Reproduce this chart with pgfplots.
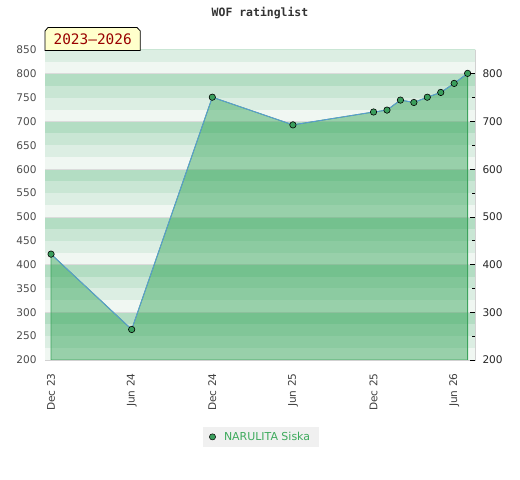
\documentclass[border=0pt]{standalone}
\usepackage{pgfplots}
\pgfplotsset{compat=1.18}
\usepackage{fontspec}
\setmainfont{DejaVu Sans}
\newfontfamily\monofont{DejaVu Sans Mono}
\definecolor{band0}{HTML}{F0F7F2}
\definecolor{band1}{HTML}{DCEEE3}
\definecolor{band2}{HTML}{C9E6D4}
\definecolor{band3}{HTML}{B3DDC3}
\definecolor{areafill}{RGB}{31,155,71}
\definecolor{edgegreen}{HTML}{3DA35D}
\definecolor{linecol}{HTML}{5B9BD5}
\definecolor{markfill}{HTML}{3A9E5C}
\definecolor{legtext}{HTML}{3DAA5C}
\definecolor{boxfill}{HTML}{FFFFCC}
\definecolor{boxtext}{HTML}{990000}
\begin{document}
\begin{tikzpicture}[x=1bp,y=1bp]
\useasboundingbox (0,0) rectangle (520,480);
\begin{axis}[
  at={(45bp,120bp)}, anchor=south west,
  scale only axis, width=430bp, height=310bp,
  xmin=-0.45, xmax=31.55, ymin=200, ymax=850,
  ytick={200,250,...,850},
  xtick={0,6,12,18,24,30},
  xticklabels={Dec 23,Jun 24,Dec 24,Jun 25,Dec 25,Jun 26},
  x tick label style={rotate=90, anchor=east, font=\fontsize{10.6}{12}\selectfont, text=black!75, xshift=-10bp, yshift=0bp},
  y tick label style={font=\fontsize{10.6}{12}\selectfont, text=black!70, xshift=-5bp},
  /pgf/number format/assume math mode=true,
  major tick length=0pt,
  axis line style={draw=black!18},
  legend style={at={(0.502,-0.248)}, anchor=center, fill=black!6, draw=none,
    font=\fontsize{11}{13}\selectfont, text=legtext, inner xsep=6.5bp, inner ysep=2.5bp,
    nodes={inner sep=2.5bp}},
  legend image code/.code={\path[draw=none, fill=none] (-1bp,-3bp) rectangle (11bp,3bp);
    \path[fill=markfill, draw=black, line width=0.5bp] (2bp,0bp) circle (3.1bp);},
  legend cell align=left,
  clip=true,
]
\fill[band3] (axis cs:-1,200) rectangle (axis cs:40,900);
\pgfplotsinvokeforeach{2,3,...,8}{
  \fill[band0] (axis cs:-1,#100) rectangle (axis cs:40,#125);
  \fill[band1] (axis cs:-1,#125) rectangle (axis cs:40,#150);
  \fill[band2] (axis cs:-1,#150) rectangle (axis cs:40,#175);
  \draw[black!14, line width=0.8bp] (axis cs:-1,#100) -- (axis cs:40,#100);
}
\addplot[fill=areafill, fill opacity=0.42, draw=edgegreen, line width=0.8bp, forget plot]
  coordinates {(0,422) (6,264) (12,751) (18,693) (24,720) (25,724) (26,745) (27,740) (28,751) (29,761) (30,780) (31,801)} \closedcycle;
\addplot[linecol, line width=0.9bp, mark=*, mark size=3.2bp,
  mark options={fill=markfill, draw=black, line width=0.6bp}, forget plot]
  coordinates {(0,422) (6,264) (12,751) (18,693) (24,720) (25,724) (26,745) (27,740) (28,751) (29,761) (30,780) (31,801)};
\addlegendimage{draw=none}
\addlegendentry{NARULITA Siska}
\end{axis}
\begin{axis}[
  at={(45bp,120bp)}, anchor=south west,
  scale only axis, width=430bp, height=310bp,
  xmin=-0.45, xmax=31.55, ymin=200, ymax=850,
  axis x line=none, axis y line*=right,
  axis line style={draw=black!18},
  ytick={200,300,...,800},
  minor ytick={250,350,...,750},
  tick align=inside,
  major tick length=5bp, minor tick length=3bp,
  tick style={black, line width=0.7bp},
  y tick label style={font=\fontsize{10.6}{12}\selectfont, text=black!85, xshift=4bp},
  /pgf/number format/assume math mode=true,
]
\addplot[draw=none] coordinates {(0,200)};
\end{axis}
\node[font=\monofont\bfseries\fontsize{11.5}{13}\selectfont, text=black!80] at (260,467) {WOF ratinglist};
\draw[fill=boxfill, draw=black, line width=0.8bp] (45,429.5) -- (45,449) -- (48,452.5) -- (137,452.5) -- (140.3,449) -- (140.3,429.5) -- cycle;
\node[font=\monofont\fontsize{14.5}{16}\selectfont, text=boxtext] at (92.7,440.5) {2023–2026};
\end{tikzpicture}
\end{document}
